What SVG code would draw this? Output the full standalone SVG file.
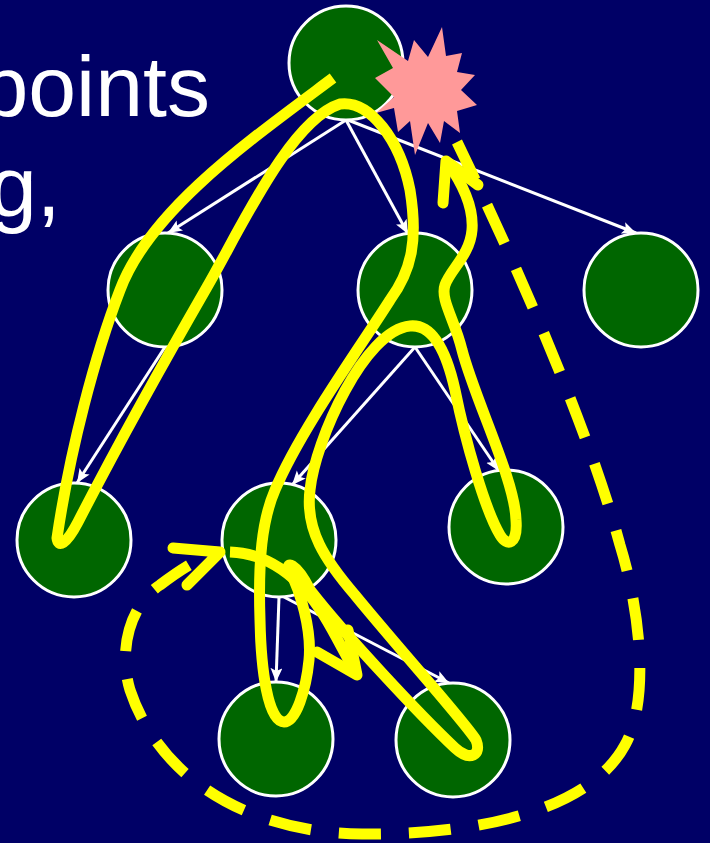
<svg xmlns="http://www.w3.org/2000/svg" width="710" height="843" viewBox="0 0 710 843">
<style>
.bg{fill:#000066}
.txt{font-family:"Liberation Sans",Arial,sans-serif;font-size:86px;fill:#ffffff}
.node{fill:#006600;stroke:#ffffff;stroke-width:3}
.edge{fill:none;stroke:#ffffff;stroke-width:3;marker-end:url(#ah)}
.trail{fill:none;stroke:#ffff00;stroke-width:11;stroke-linejoin:round;stroke-linecap:butt}
.dash{stroke-dasharray:42 28}
.head{fill:none;stroke:#ffff00;stroke-width:11;stroke-linejoin:round;stroke-linecap:round}
.star{fill:#ff9999}
</style>
<defs>
<marker id="ah" markerUnits="userSpaceOnUse" markerWidth="16" markerHeight="14" refX="14" refY="6" orient="auto">
<path d="M0,0 L14,6 L0,12 L3,6 z" fill="#ffffff"/>
</marker>
</defs>
<rect class="bg" x="0" y="0" width="710" height="843"/>
<text class="txt" x="-19.6" y="116">points</text>
<text class="txt" x="-11" y="216">g,</text>
<g id="connectors">
<line class="edge" x1="346" y1="120" x2="168" y2="233"/>
<line class="edge" x1="346" y1="120" x2="408" y2="234"/>
<line class="edge" x1="348" y1="120" x2="636" y2="233"/>
<line class="edge" x1="165" y1="347" x2="77" y2="483"/>
<line class="edge" x1="415" y1="347" x2="292" y2="485"/>
<line class="edge" x1="415" y1="347" x2="499" y2="471"/>
<line class="edge" x1="279" y1="597" x2="276" y2="682"/>
<line class="edge" x1="282" y1="596" x2="449" y2="683"/>
</g>
<g id="n-root"><circle class="node" cx="346" cy="63" r="57"/></g>
<g id="n-l"><circle class="node" cx="165" cy="290" r="57"/></g>
<g id="n-m"><circle class="node" cx="415" cy="290" r="57"/></g>
<g id="n-r"><circle class="node" cx="641" cy="290" r="57"/></g>
<g id="n-ll"><circle class="node" cx="74" cy="540" r="57"/></g>
<g id="n-ml"><circle class="node" cx="279" cy="540" r="57"/></g>
<g id="n-mr"><circle class="node" cx="506" cy="527" r="57"/></g>
<g id="n-bl"><circle class="node" cx="276" cy="739" r="57"/></g>
<g id="n-br"><circle class="node" cx="453" cy="740" r="57"/></g>
<g id="star">
<polygon class="star" points="442,27 446,56 462,53 457,72 475,75 461,90 477,105 457,111 460,133 444,121 440,143 428,123 415,155 410,121 398,132 394,108 376,113 394,97 375,78 393,68 377,40 408,61 414,40 428,57"/>
</g>
<g id="trails">
<path class="trail" d="M333,78 C250,140 150,210 120,290 C95,355 70,450 57,538 C58,548 66,545 78,522 C115,450 165,360 207,287 C240,230 290,120 340,104 C370,100 400,140 410,190 C418,240 412,270 390,300 C365,340 300,430 275,490 C262,520 258,560 260,620 C261,670 268,722 284,722 C296,722 306,690 309,660 C312,630 300,590 290,572 C284,560 296,562 310,590 C345,635 420,715 455,748 C470,762 482,755 476,740 C465,722 400,650 355,595 C325,560 305,530 310,490 C315,440 365,330 410,326 C430,324 445,345 455,390 C465,440 485,510 500,535 C507,547 518,545 516,520 C515,480 475,400 462,350 C455,320 440,300 445,285 C450,270 470,255 472,230 C474,205 460,180 447,162"/>
<path class="head" d="M443,203 L446,161 L478,185"/>
<path class="trail" d="M230,552 C260,553 285,568 305,590 C325,612 337,640 357,675"/>
<path class="head" d="M317,652 L357,675 L348,630"/>
<path class="trail dash" d="M457,142 C500,230 585,415 620,545 C640,610 650,700 625,745 C590,810 480,835 362,834 C250,833 160,780 130,690 C118,650 130,605 160,585 C180,570 200,557 218,552"/>
<path class="head" d="M173,548 L220,552 L187,585"/>
</g>
</svg>
